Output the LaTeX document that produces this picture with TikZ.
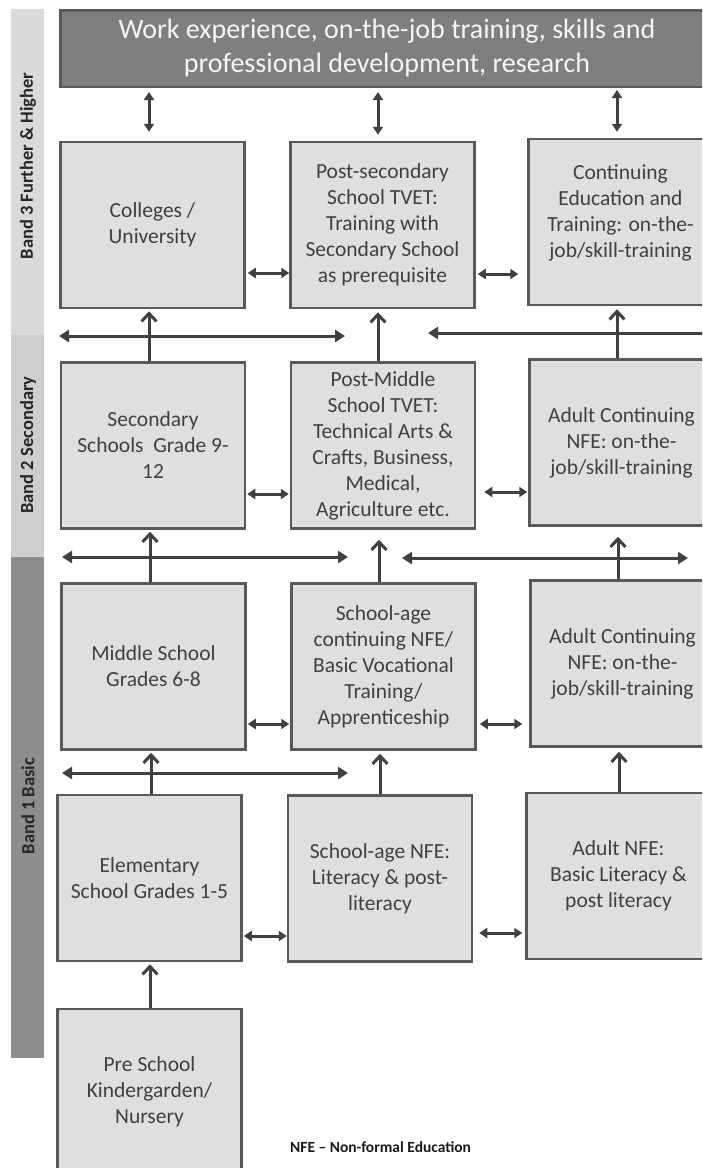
\documentclass[tikz,border=0pt]{standalone}
\usepackage{fontspec}
\setmainfont{Carlito}
\usetikzlibrary{arrows.meta}
\definecolor{boxfill}{HTML}{DFDFE0}
\definecolor{boxdraw}{HTML}{595959}
\definecolor{arrc}{HTML}{404040}
\definecolor{txt}{HTML}{404040}
\definecolor{topfill}{HTML}{7F7F80}
\definecolor{bandA}{HTML}{DADADA}
\definecolor{bandB}{HTML}{CECECE}
\definecolor{bandC}{HTML}{8D8D90}
\newcommand\bxfont{\fontsize{21.5}{26}\selectfont}
\tikzset{
  box/.style={draw=boxdraw, fill=boxfill, line width=2.5pt, minimum width=184pt,
    minimum height=166pt, align=center, text=txt, font=\bxfont, inner sep=0pt},
  bandbar/.style={draw=none, minimum width=33pt, inner sep=0pt},
  bandlabel/.style={rotate=90, font=\bfseries\fontsize{18.5}{22}\selectfont, text=black!85},
  arr/.style={draw=arrc, line width=3pt},
  dbl/.style={arr, {Triangle[length=8pt,width=10pt]}-{Triangle[length=8pt,width=10pt]}},
  longarr/.style={arr, {Triangle[length=10pt,width=12pt]}-{Triangle[length=10pt,width=12pt]}},
  onearr/.style={arr, -{Triangle[length=10pt,width=12pt]}},
  up/.style={arr, -{Straight Barb[length=8pt,width=15pt]}},
}
\begin{document}
\begin{tikzpicture}[x=1pt,y=-1pt]
\useasboundingbox (0,0) rectangle (702,1168);
\clip (0,0) rectangle (702,1168);
% band bars
\node[bandbar, fill=bandA, minimum height=326pt] (b3) at (27.5,172) {};
\node[bandbar, fill=bandB, minimum height=222pt] (b2) at (27.5,446) {};
\node[bandbar, fill=bandC, minimum height=501pt] (b1) at (27.5,807.5) {};
\node[bandlabel] (l3) at (28,166) {Band 3 Further \& Higher};
\node[bandlabel] (l2) at (28,445) {Band 2 Secondary};
\node[bandlabel] (l1) at (28,806) {Band 1 Basic};
% top box
\node[draw=boxdraw, fill=topfill, line width=2.5pt, minimum width=653.5pt, minimum height=76.5pt,
  align=center, text=white!96!black, font=\fontsize{28}{34}\selectfont, inner sep=0pt]
  (top) at (387,48.5) {Work experience, on-the-job training, skills and\\professional development, research};
% band 3 row
\node[box] (col) at (152.5,225) {Colleges /\\University};
\node[box] (pst) at (382.5,225) {Post-secondary\\School TVET:\\Training with\\Secondary School\\as prerequisite};
\node[box] (cet) at (620.5,222) {Continuing\\Education and\\Training: on-the-\\job/skill-training\\[-12pt]\strut};
% band 2 row
\node[box] (sec) at (153,445.5) {Secondary\\Schools\ \ Grade 9-\\12};
\node[box] (pmt) at (383,445.5) {Post-Middle\\School TVET:\\Technical Arts \&\\Crafts, Business,\\Medical,\\Agriculture etc.};
\node[box] (acn1) at (621.5,442.5) {Adult Continuing\\NFE: on-the-\\job/skill-training};
% band 1 rows
\node[box] (mid) at (153.5,666.5) {Middle School\\Grades 6-8};
\node[box] (sac) at (383.5,666.5) {School-age\\continuing NFE/\\Basic Vocational\\Training/\\Apprenticeship};
\node[box] (acn2) at (622.5,663.5) {Adult Continuing\\NFE: on-the-\\job/skill-training};
\node[box] (ele) at (149.5,878) {Elementary\\School Grades 1-5};
\node[box] (san) at (380,878.5) {School-age NFE:\\Literacy \& post-\\literacy};
\node[box] (anf) at (618.5,876) {Adult NFE:\\Basic Literacy \&\\post literacy};
\node[box] (pre) at (149.5,1092) {Pre School\\Kindergarden/\\Nursery};
% note
\node[anchor=west, font=\bfseries\fontsize{15.5}{18}\selectfont, text=black!90, inner sep=0pt] (note) at (290,1147) {NFE – Non-formal Education};
% top verticals
\draw[dbl, shorten <=4pt, shorten >=9pt] (top.south -| 149,0) -- (col.north -| 149,0);
\draw[dbl, shorten <=4pt, shorten >=6pt] (top.south -| 378,0) -- (pst.north -| 378,0);
\draw[dbl, shorten <=2pt, shorten >=6pt] (top.south -| 617,0) -- (cet.north -| 617,0);
% row horizontals
\draw[dbl, shorten <=2pt] (col.east |- 0,273) -- (pst.west |- 0,273);
\draw[dbl, shorten <=2pt, shorten >=9pt] (pst.east |- 0,274) -- (cet.west |- 0,274);
\draw[dbl, shorten <=1pt, shorten >=1pt] (sec.east |- 0,494) -- (pmt.west |- 0,494);
\draw[dbl, shorten <=8pt, shorten >=1pt] (pmt.east |- 0,492) -- (acn1.west |- 0,492);
\draw[dbl, shorten <=1pt, shorten >=1pt] (mid.east |- 0,724) -- (sac.west |- 0,724);
\draw[dbl, shorten <=3pt, shorten >=7pt] (sac.east |- 0,724) -- (acn2.west |- 0,724);
\draw[dbl, shorten <=1pt, shorten >=0pt] (ele.east |- 0,936) -- (san.west |- 0,936);
\draw[dbl, shorten <=6pt, shorten >=3pt] (san.east |- 0,933) -- (anf.west |- 0,933);
% long horizontals
\coordinate (L1a) at (59,336);  \coordinate (L1b) at (345,336);
\coordinate (R1a) at (712,333); \coordinate (R1b) at (428,333);
\coordinate (L2a) at (62,557);  \coordinate (L2b) at (348,557);
\coordinate (R2a) at (402,558); \coordinate (R2b) at (688,558);
\coordinate (L3a) at (62,773);  \coordinate (L3b) at (348,773);
\draw[longarr] (L1a) -- (L1b);
\draw[onearr] (R1a) -- (R1b);
\draw[longarr] (L2a) -- (L2b);
\draw[longarr] (R2a) -- (R2b);
\draw[longarr] (L3a) -- (L3b);
% upward arrows
\draw[up, shorten >=2pt] (sec.north -| 149,0) -- (col.south -| 149,0);
\draw[up, shorten >=3pt] (pmt.north -| 378,0) -- (pst.south -| 378,0);
\draw[up, shorten >=3pt] (acn1.north -| 617,0) -- (cet.south -| 617,0);
\draw[up, shorten >=2pt] (mid.north -| 150,0) -- (sec.south -| 150,0);
\draw[up, shorten >=10pt] (sac.north -| 379,0) -- (pmt.south -| 379,0);
\draw[up, shorten >=10pt] (acn2.north -| 618,0) -- (acn1.south -| 618,0);
\draw[up, shorten >=2pt] (ele.north -| 151,0) -- (mid.south -| 151,0);
\draw[up, shorten >=3pt] (san.north -| 380,0) -- (sac.south -| 380,0);
\draw[up, shorten >=4pt] (anf.north -| 619,0) -- (acn2.south -| 619,0);
\draw[up, shorten >=2pt] (pre.north -| 150,0) -- (ele.south -| 150,0);
\end{tikzpicture}
\end{document}
